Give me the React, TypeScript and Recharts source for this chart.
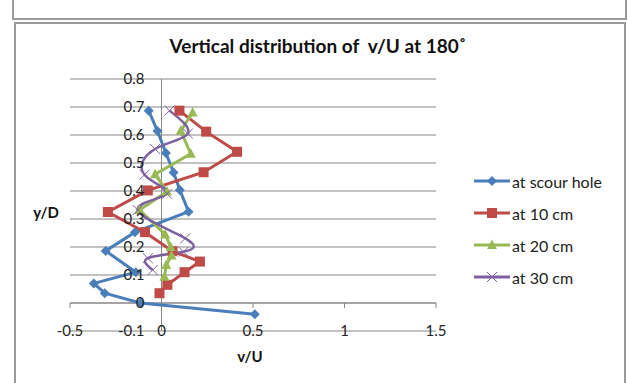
import {
  CartesianGrid,
  ComposedChart,
  Legend,
  Line,
  ReferenceLine,
  XAxis,
  YAxis,
} from "recharts";

// v/U measured at each depth y/D, one pair of arrays per station
const scourY = [0.687, 0.614, 0.536, 0.466, 0.404, 0.326, 0.253, 0.186, 0.11, 0.07, 0.035, 0, -0.04];
const scourV = [-0.07, -0.022, 0.024, 0.066, 0.1, 0.148, -0.145, -0.305, -0.14, -0.37, -0.31, -0.115, 0.51];

const cm10Y = [0.687, 0.612, 0.54, 0.467, 0.402, 0.325, 0.253, 0.185, 0.148, 0.11, 0.065, 0.035];
const cm10V = [0.098, 0.244, 0.413, 0.23, -0.075, -0.293, -0.09, 0.06, 0.21, 0.126, 0.032, -0.011];

const cm20Y = [0.68, 0.615, 0.533, 0.46, 0.398, 0.332, 0.245, 0.2, 0.17, 0.136, 0.094];
const cm20V = [0.17, 0.105, 0.16, -0.035, 0.03, -0.12, 0.02, 0.05, 0.055, 0.026, 0.016];

const cm30Y = [0.687, 0.605, 0.55, 0.458, 0.39, 0.332, 0.231, 0.183, 0.16, 0.118];
const cm30V = [0.044, 0.144, -0.035, -0.093, 0.03, -0.13, 0.13, 0.12, -0.075, -0.048];

const xTicks = [-0.5, 0, 0.5, 1, 1.5];
const yTicks = [-0.1, 0, 0.1, 0.2, 0.3, 0.4, 0.5, 0.6, 0.7, 0.8];

const X_MIN = -0.5;
const X_MAX = 1.5;
const W = 628;
const H = 383;
const LEGEND_W = 150;
// the legend's width is taken out of the right side by recharts
const MARGIN = { top: 79, right: 192 - LEGEND_W, bottom: 2, left: 10 };
const Y_AXIS_W = 60;
const PLOT_W = W - MARGIN.left - MARGIN.right - LEGEND_W - Y_AXIS_W;
const ZERO_OFFSET = (PLOT_W * (0 - X_MIN)) / (X_MAX - X_MIN);

const FONT = "Lato, 'Open Sans', sans-serif";
const GRID = "#868686";

const toPoints = (ys: number[], vs: number[]) => ys.map((y, i) => ({ v: vs[i], y }));

type Shape = "diamond" | "square" | "triangle" | "cross";

function Marker({ cx, cy, color, shape }: { cx: number; cy: number; color: string; shape: Shape }) {
  if (cx == null || cy == null) return null;
  if (shape === "diamond")
    return <polygon points={`${cx},${cy - 5} ${cx + 5},${cy} ${cx},${cy + 5} ${cx - 5},${cy}`} fill={color} />;
  if (shape === "square") return <rect x={cx - 5} y={cy - 5} width={10} height={10} fill={color} />;
  if (shape === "triangle")
    return <polygon points={`${cx},${cy - 5.5} ${cx + 5},${cy + 4} ${cx - 5},${cy + 4}`} fill={color} />;
  return (
    <g stroke={color} strokeWidth={1}>
      <line x1={cx - 5} y1={cy - 5} x2={cx + 5} y2={cy + 5} />
      <line x1={cx - 5} y1={cy + 5} x2={cx + 5} y2={cy - 5} />
    </g>
  );
}

const series: { name: string; color: string; shape: Shape; smooth: boolean; data: { v: number; y: number }[] }[] = [
  { name: "at scour hole", color: "#4A7EBB", shape: "diamond", smooth: false, data: toPoints(scourY, scourV) },
  { name: "at 10 cm", color: "#BE4B48", shape: "square", smooth: false, data: toPoints(cm10Y, cm10V) },
  { name: "at 20 cm", color: "#98B954", shape: "triangle", smooth: false, data: toPoints(cm20Y, cm20V) },
  { name: "at 30 cm", color: "#7D60A0", shape: "cross", smooth: true, data: toPoints(cm30Y, cm30V) },
];

function XTick({ x, y, payload }: any) {
  return (
    <text x={x} y={y + 5} textAnchor="middle" fontFamily={FONT} fontSize={15} fill="#222">
      {payload.value}
    </text>
  );
}

function YTick({ x, y, payload }: any) {
  return (
    <text x={x + ZERO_OFFSET - 17} y={y + 5} textAnchor="end" fontFamily={FONT} fontSize={15} fill="#222">
      {payload.value}
    </text>
  );
}

function LegendBox() {
  return (
    <div style={{ fontFamily: FONT, fontSize: 16, color: "#222" }}>
      {series.map((s) => (
        <div key={s.name} style={{ display: "flex", alignItems: "center", height: 32 }}>
          <svg width={38} height={14}>
            <line x1={0} y1={7} x2={36} y2={7} stroke={s.color} strokeWidth={3} />
            <Marker cx={18} cy={7} color={s.color} shape={s.shape} />
          </svg>
          <span>{s.name}</span>
        </div>
      ))}
    </div>
  );
}

export default function App() {
  return (
    <div style={{ position: "absolute", left: 0, top: 0, width: W, height: H, background: "#fff", overflow: "hidden" }}>
      <div
        style={{
          position: "absolute",
          left: 12,
          top: -10,
          width: 611,
          height: 26,
          border: "2px solid #9a9a9a",
        }}
      />
      <div
        style={{
          position: "absolute",
          left: 14,
          top: 22,
          width: 608,
          height: 380,
          border: "2px solid #9a9a9a",
        }}
      />
      <div
        style={{
          position: "absolute",
          left: 4,
          top: 35,
          width: W,
          textAlign: "center",
          fontFamily: FONT,
          fontWeight: 700,
          fontSize: 19,
          lineHeight: "22px",
          color: "#111",
          whiteSpace: "pre",
        }}
      >
        {"Vertical distribution of  v/U at 180˚"}
      </div>
      <div
        style={{
          position: "absolute",
          left: 26,
          top: 202,
          width: 40,
          textAlign: "center",
          fontFamily: FONT,
          fontWeight: 700,
          fontSize: 15,
          lineHeight: "20px",
          color: "#111",
        }}
      >
        y/D
      </div>
      <div
        style={{
          position: "absolute",
          left: 230,
          top: 346,
          width: 40,
          textAlign: "center",
          fontFamily: FONT,
          fontWeight: 700,
          fontSize: 15,
          lineHeight: "20px",
          color: "#111",
        }}
      >
        v/U
      </div>
      <div style={{ position: "absolute", left: 0, top: 0 }}>
        <ComposedChart width={W} height={H} margin={MARGIN}>
          <CartesianGrid horizontal vertical={false} stroke={GRID} strokeWidth={1} />
          <XAxis
            type="number"
            dataKey="v"
            domain={[X_MIN, X_MAX]}
            ticks={xTicks}
            axisLine={false}
            tickLine={false}
            tickSize={0}
            tickMargin={0}
            height={50}
            tick={<XTick />}
            allowDataOverflow
          />
          <YAxis
            type="number"
            dataKey="y"
            domain={[-0.1, 0.8]}
            ticks={yTicks}
            axisLine={false}
            tickLine={false}
            tickSize={0}
            tickMargin={0}
            width={Y_AXIS_W}
            tick={<YTick />}
            allowDataOverflow
          />
          <ReferenceLine x={0} stroke={GRID} strokeWidth={1} />
          <ReferenceLine y={0} stroke={GRID} strokeWidth={1} />
          {xTicks.map((t) => (
            <ReferenceLine
              key={t}
              segment={[
                { x: t, y: 0 },
                { x: t, y: -0.018 },
              ]}
              stroke={GRID}
              strokeWidth={1}
            />
          ))}
          {series.map((s) => (
            <Line
              key={s.name}
              data={s.data}
              dataKey="y"
              name={s.name}
              type={s.smooth ? "natural" : "linear"}
              stroke={s.color}
              strokeWidth={s.smooth ? 2.5 : 3}
              dot={(p: any) => <Marker key={p.index} cx={p.cx} cy={p.cy} color={s.color} shape={s.shape} />}
              activeDot={false}
              isAnimationActive={false}
            />
          ))}
          <Legend
            layout="vertical"
            align="right"
            verticalAlign="top"
            content={<LegendBox />}
            wrapperStyle={{ left: 474, top: 165, right: "auto", width: LEGEND_W }}
          />
        </ComposedChart>
      </div>
    </div>
  );
}
